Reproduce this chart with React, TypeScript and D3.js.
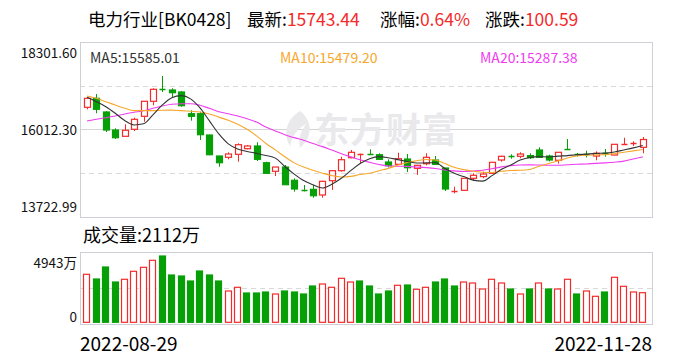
import React, { useEffect, useRef } from "react";
import * as d3 from "d3";

// ---- data ----
const stockName = "电力行业[BK0428]";
const latest = "15743.44";
const changePct = "0.64%";
const changeAmt = "100.59";
const volumeNow = "2112万";
const ma5Label = "15585.01";
const ma10Label = "15479.20";
const ma20Label = "15287.38";

const priceTicks = ["18301.60", "16012.30", "13722.99"];
const volumeTicks = ["4943万", "0"];

const dates = [
  "2022-08-29", "2022-08-30", "2022-08-31",
  "2022-09-01", "2022-09-02", "2022-09-05", "2022-09-06", "2022-09-07", "2022-09-08", "2022-09-09",
  "2022-09-13", "2022-09-14", "2022-09-15", "2022-09-16", "2022-09-19", "2022-09-20", "2022-09-21",
  "2022-09-22", "2022-09-23", "2022-09-26", "2022-09-27", "2022-09-28", "2022-09-29", "2022-09-30",
  "2022-10-10", "2022-10-11", "2022-10-12", "2022-10-13", "2022-10-14", "2022-10-17", "2022-10-18",
  "2022-10-19", "2022-10-20", "2022-10-21", "2022-10-24", "2022-10-25", "2022-10-26", "2022-10-27",
  "2022-10-28", "2022-10-31",
  "2022-11-01", "2022-11-02", "2022-11-03", "2022-11-04", "2022-11-07", "2022-11-08", "2022-11-09",
  "2022-11-10", "2022-11-11", "2022-11-14", "2022-11-15", "2022-11-16", "2022-11-17", "2022-11-18",
  "2022-11-21", "2022-11-22", "2022-11-23", "2022-11-24", "2022-11-25", "2022-11-28",
];

const opens = [
  16588, 16824, 16465, 15992, 15827, 16011, 16352, 16746, 17070, 17042,
  16990, 16420, 16420, 15861, 15310, 15276, 15355, 15502, 15573, 15134,
  14909, 15021, 14673, 14420, 14436, 14287, 14662, 14925, 15266, 15340,
  15370, 15344, 15153, 15092, 15231, 14987, 15108, 15205, 14995, 14380,
  14410, 14725, 14770, 14856, 15205, 15300, 15302, 15320, 15468, 15310,
  15198, 15490, 15352, 15362, 15310, 15381, 15336, 15625, 15630, 15539,
];
const highs = [
  16830, 16936, 16490, 16036, 16142, 16315, 16753, 17087, 17409, 17087,
  17016, 16509, 16473, 15870, 15320, 15407, 15643, 15599, 15670, 15161,
  15021, 15074, 14725, 14549, 14549, 14660, 14930, 15290, 15468, 15370,
  15485, 15381, 15223, 15397, 15363, 15070, 15381, 15310, 15000, 14505,
  14730, 14857, 14898, 15150, 15320, 15355, 15407, 15381, 15538, 15345,
  15410, 15756, 15390, 15450, 15433, 15494, 15620, 15790, 15695, 15808,
];
const lows = [
  16535, 16431, 15940, 15756, 15827, 15966, 16210, 16640, 16990, 16832,
  16604, 16237, 15730, 15330, 15029, 15224, 15161, 15486, 15179, 14838,
  14785, 14557, 14374, 14380, 14216, 14216, 14420, 14900, 15250, 15117,
  15335, 15205, 15013, 15092, 14890, 14814, 15066, 15085, 14392, 14330,
  14400, 14654, 14725, 14850, 15161, 15240, 15250, 15231, 15258, 15170,
  15110, 15468, 15300, 15275, 15198, 15292, 15330, 15620, 15572, 15381,
];
const closes = [
  16824, 16535, 15992, 15790, 15985, 16273, 16746, 17060, 17050, 16971,
  16630, 16352, 15869, 15344, 15134, 15363, 15607, 15573, 15223, 14856,
  15021, 14557, 14444, 14400, 14268, 14646, 14925, 15213, 15407, 15360,
  15350, 15223, 15055, 15239, 15003, 15066, 15276, 15092, 14444, 14395,
  14725, 14804, 14838, 15145, 15302, 15290, 15363, 15266, 15276, 15205,
  15407, 15480, 15345, 15356, 15380, 15344, 15617, 15635, 15643, 15743.44,
];
// volume, in 万
const volumes = [
  3383, 3058, 3887, 2851, 3038, 3590, 3866, 4349, 4646, 3335,
  3266, 2920, 3611, 3335, 2920, 2230, 2485, 2092, 2092, 2161,
  2023, 2230, 2161, 2023, 2575, 2713, 2485, 3107, 2851, 2920,
  2575, 2023, 2230, 2623, 2644, 2347, 2485, 2851, 3058, 2575,
  2851, 2782, 2368, 3038, 2782, 2368, 2023, 2368, 2782, 2368,
  2368, 3038, 2023, 2230, 1864, 2161, 3176, 2554, 2161, 2112,
];
const ma5 = [
  16850, 16735, 16604, 16431, 16240, 16125, 16155, 16390, 16650, 16840,
  16895, 16810, 16572, 16232, 15890, 15630, 15495, 15430, 15380, 15324,
  15255, 15035, 14835, 14665, 14555, 14470, 14570, 14725, 14925, 15112,
  15240, 15295, 15265, 15215, 15168, 15125, 15130, 15135, 14980, 14855,
  14770, 14678, 14650, 14795, 14962, 15075, 15205, 15270, 15295, 15285,
  15306, 15320, 15343, 15360, 15378, 15385, 15415, 15468, 15523, 15585,
];
const ma10 = [
  16885, 16824, 16735, 16648, 16561, 16500, 16500, 16500, 16510, 16515,
  16500, 16483, 16465, 16410, 16330, 16250, 16145, 16010, 15840, 15640,
  15470, 15290, 15130, 15020, 14935, 14860, 14795, 14760, 14775, 14825,
  14857, 14924, 14985, 15069, 15142, 15184, 15219, 15207, 15111, 15014,
  14952, 14910, 14885, 14879, 14909, 14931, 14935, 14955, 15040, 15115,
  15180, 15257, 15311, 15332, 15340, 15345, 15371, 15408, 15445, 15479,
];
const ma20 = [
  16229, 16273, 16315, 16359, 16412, 16457, 16499, 16562, 16622, 16667,
  16683, 16683, 16641, 16562, 16473, 16420, 16360, 16290, 16200, 16070,
  15969, 15870, 15792, 15723, 15637, 15556, 15465, 15372, 15290, 15210,
  15146, 15089, 15048, 15043, 15037, 15022, 15005, 14981, 14942, 14919,
  14904, 14917, 14936, 14974, 15025, 15058, 15075, 15078, 15073, 15066,
  15068, 15080, 15094, 15100, 15118, 15130, 15148, 15175, 15232, 15287,
];

const RED = "#f42a2a";
const GREEN = "#079f07";
const MA5C = "#333333";
const MA10C = "#f6a72c";
const MA20C = "#f03cf0";
const FONT = "'Noto Sans CJK SC', 'Noto Sans', sans-serif";

const KLineChart = () => {
  const ref = useRef<SVGSVGElement | null>(null);

  useEffect(() => {
    const svg = d3.select(ref.current);
    svg.selectAll("*").remove();

    const left = 80;
    const right = 652;
    const mainTop = 42;
    const mainBottom = 216.5;
    const volTop = 251.7;
    const volBottom = 323.3;

    const x = d3.scalePoint<string>().domain(dates).range([87, 642.7]);
    const step = x.step();
    const bw = step * 0.78;
    const y = d3
      .scaleLinear()
      .domain([+priceTicks[2], +priceTicks[0]])
      .range([mainBottom, mainTop]);
    const yv = d3.scaleLinear().domain([0, 4943]).range([volBottom, volTop]);

    const px = (v: number) => Math.round(v) + 0.5;

    // title
    const title = svg.append("g").attr("font-family", FONT).attr("font-size", 17.5);
    title.append("text").attr("x", 88).attr("y", 26).attr("fill", "#000").text(stockName);
    const parts = [
      { x: 247, label: "最新:", value: latest },
      { x: 380, label: "涨幅:", value: changePct },
      { x: 485, label: "涨跌:", value: changeAmt },
    ];
    parts.forEach((p) => {
      const t = title.append("text").attr("x", p.x).attr("y", 26);
      t.append("tspan").attr("fill", "#000").text(p.label);
      t.append("tspan").attr("fill", RED).text(p.value);
    });

    // main frame + grid
    const grid = svg.append("g");
    [0.25, 0.75].forEach((f) => {
      const gy = px(mainTop + (mainBottom - mainTop) * f);
      grid
        .append("line")
        .attr("x1", left)
        .attr("x2", right)
        .attr("y1", gy)
        .attr("y2", gy)
        .attr("stroke", "#d9d9d9")
        .attr("stroke-dasharray", "5,4");
    });
    const midY = px((mainTop + mainBottom) / 2);
    grid
      .append("line")
      .attr("x1", left)
      .attr("x2", right)
      .attr("y1", midY)
      .attr("y2", midY)
      .attr("stroke", "#d4d4d4");
    grid
      .append("rect")
      .attr("x", px(left))
      .attr("y", px(mainTop))
      .attr("width", right - left)
      .attr("height", Math.round(mainBottom - mainTop))
      .attr("fill", "none")
      .attr("stroke", "#cfcfd6");

    // watermark
    const wm = svg.append("g").attr("fill", "#e9e9ec");
    wm.append("path").attr(
      "d",
      "M300,111 C288,118 282,132 290,146 C292,136 298,128 306,124 C300,132 298,140 300,148 C312,138 314,122 300,111 Z"
    );
    wm.append("text")
      .attr("x", 314)
      .attr("y", 143)
      .attr("font-family", FONT)
      .attr("font-weight", "bold")
      .attr("font-size", 35)
      .attr("letter-spacing", 1)
      .text("东方财富");

    // price axis labels
    const axisText = svg
      .append("g")
      .attr("font-family", FONT)
      .attr("font-size", 13.5)
      .attr("fill", "#111")
      .attr("text-anchor", "end");
    [52, (mainTop + mainBottom) / 2, 206].forEach((ty, i) => {
      axisText
        .append("text")
        .attr("x", 77)
        .attr("y", ty)
        .attr("dominant-baseline", "central")
        .text(priceTicks[i]);
    });

    // candles
    const candles = svg.append("g");
    dates.forEach((d, i) => {
      const cx = px(x(d) as number);
      const o = opens[i];
      const c = closes[i];
      const up = c >= o;
      const col = up ? RED : GREEN;
      candles
        .append("line")
        .attr("x1", cx)
        .attr("x2", cx)
        .attr("y1", y(highs[i]))
        .attr("y2", y(lows[i]))
        .attr("stroke", col);
      const top = y(Math.max(o, c));
      const bot = y(Math.min(o, c));
      const bx = Math.round(cx - bw / 2) + 0.5;
      const w = Math.round(bw) - 1;
      if (bot - top < 1.5) {
        candles
          .append("line")
          .attr("x1", bx)
          .attr("x2", bx + w)
          .attr("y1", px(top))
          .attr("y2", px(top))
          .attr("stroke", col)
          .attr("stroke-width", 1.5);
      } else {
        candles
          .append("rect")
          .attr("x", bx)
          .attr("y", top)
          .attr("width", w)
          .attr("height", bot - top)
          .attr("fill", up ? "#fff" : GREEN)
          .attr("stroke", col)
          .attr("stroke-width", 1.2);
      }
    });

    // moving averages
    const lineFor = (vals: number[]) =>
      d3
        .line<number>()
        .x((_, i) => x(dates[i]) as number)
        .y((v) => y(v))
        .curve(d3.curveMonotoneX)(vals);
    [
      { vals: ma20, col: MA20C },
      { vals: ma10, col: MA10C },
      { vals: ma5, col: MA5C },
    ].forEach((m) => {
      svg
        .append("path")
        .attr("d", lineFor(m.vals) as string)
        .attr("fill", "none")
        .attr("stroke", m.col)
        .attr("stroke-width", 1.1);
    });

    // MA legend
    const legend = svg.append("g").attr("font-family", FONT).attr("font-size", 14);
    [
      { x: 90, text: "MA5:" + ma5Label, col: MA5C },
      { x: 280, text: "MA10:" + ma10Label, col: MA10C },
      { x: 480, text: "MA20:" + ma20Label, col: MA20C },
    ].forEach((l) => {
      legend
        .append("text")
        .attr("x", l.x)
        .attr("y", 57)
        .attr("dominant-baseline", "central")
        .attr("fill", l.col)
        .text(l.text);
    });

    // volume label
    svg
      .append("text")
      .attr("x", 83)
      .attr("y", 234)
      .attr("dominant-baseline", "central")
      .attr("font-family", FONT)
      .attr("font-size", 18)
      .attr("fill", "#000")
      .text("成交量:" + volumeNow);

    // volume frame
    const vMid = px((volTop + volBottom) / 2);
    svg
      .append("line")
      .attr("x1", left)
      .attr("x2", right)
      .attr("y1", vMid)
      .attr("y2", vMid)
      .attr("stroke", "#d9d9d9")
      .attr("stroke-dasharray", "5,4");
    svg
      .append("rect")
      .attr("x", px(left))
      .attr("y", px(volTop))
      .attr("width", right - left)
      .attr("height", Math.round(volBottom - volTop))
      .attr("fill", "none")
      .attr("stroke", "#cfcfd6");

    const vAxis = svg
      .append("g")
      .attr("font-family", FONT)
      .attr("font-size", 13.5)
      .attr("fill", "#111")
      .attr("text-anchor", "end");
    vAxis.append("text").attr("x", 77).attr("y", 262).attr("dominant-baseline", "central").text(volumeTicks[0]);
    vAxis.append("text").attr("x", 77).attr("y", 316).attr("dominant-baseline", "central").text(volumeTicks[1]);

    // volume bars: red when close rises from the previous close
    const bars = svg.append("g");
    dates.forEach((d, i) => {
      const up = i === 0 ? closes[i] >= opens[i] : closes[i] >= closes[i - 1];
      const cx = x(d) as number;
      const bx = Math.round(cx - bw / 2) + 0.5;
      const w = Math.round(bw) - 1;
      const top = yv(volumes[i]);
      bars
        .append("rect")
        .attr("x", bx)
        .attr("y", top)
        .attr("width", w)
        .attr("height", volBottom - 1 - top)
        .attr("fill", up ? "#fff" : GREEN)
        .attr("stroke", up ? RED : GREEN)
        .attr("stroke-width", 1.2);
    });

    // date labels
    const dl = svg.append("g").attr("font-family", FONT).attr("font-size", 19).attr("fill", "#000");
    dl.append("text").attr("x", 80).attr("y", 342).attr("dominant-baseline", "central").text(dates[0]);
    dl.append("text")
      .attr("x", 652)
      .attr("y", 342)
      .attr("text-anchor", "end")
      .attr("dominant-baseline", "central")
      .text(dates[dates.length - 1]);
  }, []);

  return (
    <svg
      ref={ref}
      width={688}
      height={360}
      style={{ position: "absolute", left: 0, top: 0, background: "#fff" }}
    />
  );
};

export default function App() {
  return <KLineChart />;
}
